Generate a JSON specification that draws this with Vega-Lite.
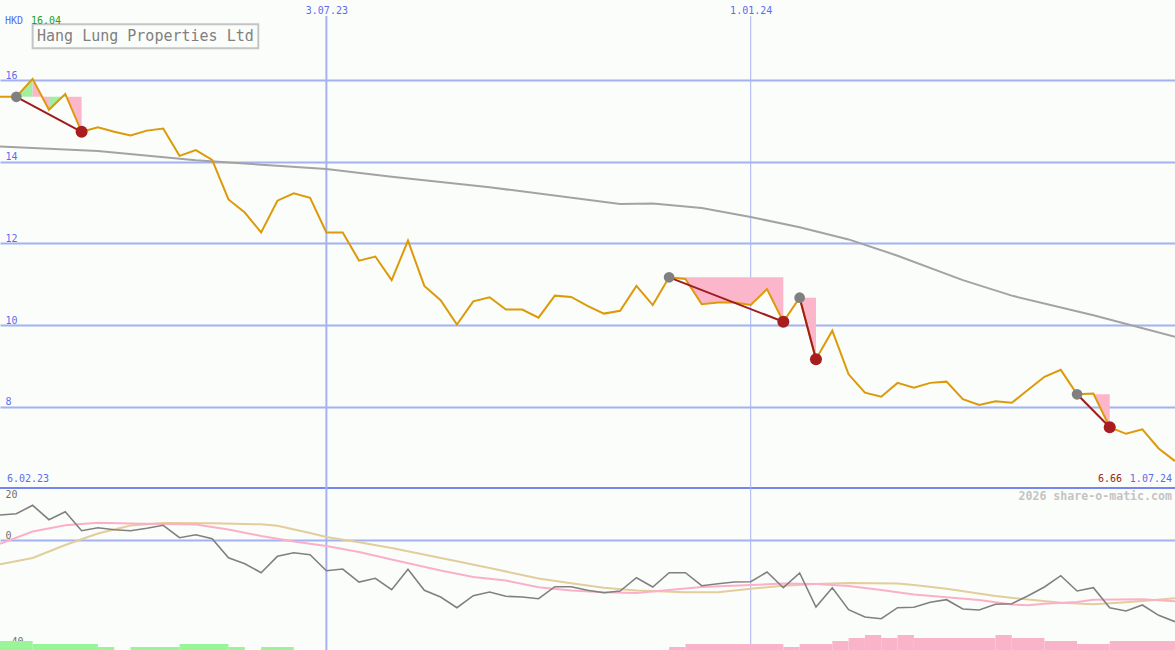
{
  "$schema": "https://vega.github.io/schema/vega-lite/v6.json",
  "width": 1175,
  "height": 650,
  "autosize": {"type": "none"},
  "padding": 0,
  "background": "#fbfdfb",
  "config": {"view": {"stroke": null}, "font": "DejaVu Sans Mono"},
  "datasets": {
    "weekly": [
      {"d":"2023-02-13","p":15.6,"m":9.49},
      {"d":"2023-02-20","p":15.6,"m":9.97},
      {"d":"2023-02-27","p":16.04,"m":13.12},
      {"d":"2023-03-06","p":15.28,"m":7.72},
      {"d":"2023-03-13","p":15.67,"m":10.72},
      {"d":"2023-03-20","p":14.74,"m":3.6},
      {"d":"2023-03-27","p":14.85,"m":4.72},
      {"d":"2023-04-03","p":14.74,"m":3.97},
      {"d":"2023-04-10","p":14.65,"m":3.6},
      {"d":"2023-04-17","p":14.77,"m":4.5},
      {"d":"2023-04-24","p":14.82,"m":5.62},
      {"d":"2023-05-01","p":14.15,"m":0.97},
      {"d":"2023-05-08","p":14.29,"m":2.1},
      {"d":"2023-05-15","p":14.05,"m":0.6},
      {"d":"2023-05-22","p":13.08,"m":-6.52},
      {"d":"2023-05-29","p":12.76,"m":-8.77},
      {"d":"2023-06-05","p":12.27,"m":-12.15},
      {"d":"2023-06-12","p":13.05,"m":-6.0},
      {"d":"2023-06-19","p":13.23,"m":-4.65},
      {"d":"2023-06-26","p":13.12,"m":-5.4},
      {"d":"2023-07-03","p":12.27,"m":-11.4},
      {"d":"2023-07-10","p":12.27,"m":-10.76},
      {"d":"2023-07-17","p":11.58,"m":-15.64},
      {"d":"2023-07-24","p":11.68,"m":-14.25},
      {"d":"2023-07-31","p":11.1,"m":-18.52},
      {"d":"2023-08-07","p":12.07,"m":-10.87},
      {"d":"2023-08-14","p":10.96,"m":-18.75},
      {"d":"2023-08-21","p":10.61,"m":-21.26},
      {"d":"2023-08-28","p":10.01,"m":-25.27},
      {"d":"2023-09-04","p":10.58,"m":-20.77},
      {"d":"2023-09-11","p":10.68,"m":-19.39},
      {"d":"2023-09-18","p":10.38,"m":-21.0},
      {"d":"2023-09-25","p":10.38,"m":-21.26},
      {"d":"2023-10-02","p":10.18,"m":-21.9},
      {"d":"2023-10-09","p":10.72,"m":-17.4},
      {"d":"2023-10-16","p":10.69,"m":-17.4},
      {"d":"2023-10-23","p":10.47,"m":-18.75},
      {"d":"2023-10-30","p":10.28,"m":-19.65},
      {"d":"2023-11-06","p":10.35,"m":-19.01},
      {"d":"2023-11-13","p":10.96,"m":-14.02},
      {"d":"2023-11-20","p":10.49,"m":-17.51},
      {"d":"2023-11-27","p":11.17,"m":-12.15},
      {"d":"2023-12-04","p":11.13,"m":-12.15},
      {"d":"2023-12-11","p":10.51,"m":-17.02},
      {"d":"2023-12-18","p":10.55,"m":-16.27},
      {"d":"2023-12-25","p":10.55,"m":-15.64},
      {"d":"2024-01-01","p":10.49,"m":-15.52},
      {"d":"2024-01-08","p":10.88,"m":-11.89},
      {"d":"2024-01-15","p":10.08,"m":-17.77},
      {"d":"2024-01-22","p":10.67,"m":-12.26},
      {"d":"2024-01-29","p":9.16,"m":-25.01},
      {"d":"2024-02-05","p":9.86,"m":-17.77},
      {"d":"2024-02-12","p":8.79,"m":-26.02},
      {"d":"2024-02-19","p":8.34,"m":-28.76},
      {"d":"2024-02-26","p":8.24,"m":-29.4},
      {"d":"2024-03-04","p":8.58,"m":-25.27},
      {"d":"2024-03-11","p":8.46,"m":-25.12},
      {"d":"2024-03-18","p":8.58,"m":-23.25},
      {"d":"2024-03-25","p":8.61,"m":-22.27},
      {"d":"2024-04-01","p":8.18,"m":-25.76},
      {"d":"2024-04-08","p":8.04,"m":-26.13},
      {"d":"2024-04-15","p":8.13,"m":-24.0},
      {"d":"2024-04-22","p":8.09,"m":-23.77},
      {"d":"2024-04-29","p":8.41,"m":-20.77},
      {"d":"2024-05-06","p":8.73,"m":-17.51},
      {"d":"2024-05-13","p":8.9,"m":-13.27},
      {"d":"2024-05-20","p":8.3,"m":-19.01},
      {"d":"2024-05-27","p":8.32,"m":-17.77},
      {"d":"2024-06-03","p":7.49,"m":-25.27},
      {"d":"2024-06-10","p":7.33,"m":-26.51},
      {"d":"2024-06-17","p":7.44,"m":-24.26},
      {"d":"2024-06-24","p":6.97,"m":-28.12},
      {"d":"2024-07-01","p":6.66,"m":-30.52}
    ],
    "ma": [
      {"d":"2023-02-13","v":14.38},
      {"d":"2023-03-27","v":14.27},
      {"d":"2023-05-08","v":14.04},
      {"d":"2023-07-03","v":13.83},
      {"d":"2023-07-31","v":13.64},
      {"d":"2023-09-11","v":13.38},
      {"d":"2023-11-06","v":12.97},
      {"d":"2023-11-20","v":12.98},
      {"d":"2023-12-11","v":12.87},
      {"d":"2024-01-01","v":12.65},
      {"d":"2024-01-22","v":12.4},
      {"d":"2024-02-12","v":12.1},
      {"d":"2024-03-04","v":11.7},
      {"d":"2024-04-01","v":11.1},
      {"d":"2024-04-22","v":10.72},
      {"d":"2024-05-27","v":10.24},
      {"d":"2024-07-01","v":9.71}
    ],
    "pinkline": [
      {"d":"2023-02-13","v":-1.27},
      {"d":"2023-02-27","v":3.3},
      {"d":"2023-03-13","v":5.62},
      {"d":"2023-03-27","v":6.56},
      {"d":"2023-04-10","v":6.34},
      {"d":"2023-05-08","v":5.92},
      {"d":"2023-05-22","v":4.05},
      {"d":"2023-06-05","v":1.61},
      {"d":"2023-06-19","v":-0.45},
      {"d":"2023-07-03","v":-2.14},
      {"d":"2023-07-17","v":-4.39},
      {"d":"2023-07-31","v":-7.2},
      {"d":"2023-08-21","v":-11.32},
      {"d":"2023-09-04","v":-13.76},
      {"d":"2023-09-18","v":-15.07},
      {"d":"2023-10-02","v":-17.62},
      {"d":"2023-10-16","v":-18.82},
      {"d":"2023-10-30","v":-19.46},
      {"d":"2023-11-13","v":-19.76},
      {"d":"2023-11-27","v":-18.64},
      {"d":"2023-12-11","v":-17.51},
      {"d":"2024-01-01","v":-16.76},
      {"d":"2024-01-15","v":-16.2},
      {"d":"2024-01-29","v":-16.39},
      {"d":"2024-02-12","v":-17.14},
      {"d":"2024-02-26","v":-18.64},
      {"d":"2024-03-11","v":-20.32},
      {"d":"2024-03-25","v":-21.37},
      {"d":"2024-04-08","v":-22.38},
      {"d":"2024-04-22","v":-24.07},
      {"d":"2024-04-29","v":-24.37},
      {"d":"2024-05-06","v":-23.77},
      {"d":"2024-05-20","v":-23.13},
      {"d":"2024-05-27","v":-22.27},
      {"d":"2024-06-17","v":-22.12},
      {"d":"2024-07-01","v":-22.87}
    ],
    "tanline": [
      {"d":"2023-02-13","v":-9.0},
      {"d":"2023-02-27","v":-6.64},
      {"d":"2023-03-13","v":-1.76},
      {"d":"2023-03-27","v":2.55},
      {"d":"2023-04-10","v":5.55},
      {"d":"2023-04-24","v":6.49},
      {"d":"2023-05-15","v":6.37},
      {"d":"2023-06-05","v":6.0},
      {"d":"2023-06-12","v":5.44},
      {"d":"2023-06-26","v":2.74},
      {"d":"2023-07-03","v":1.24},
      {"d":"2023-07-17","v":-0.75},
      {"d":"2023-07-31","v":-2.89},
      {"d":"2023-08-28","v":-7.84},
      {"d":"2023-09-11","v":-10.39},
      {"d":"2023-10-02","v":-14.32},
      {"d":"2023-10-16","v":-16.12},
      {"d":"2023-10-30","v":-17.77},
      {"d":"2023-11-13","v":-18.82},
      {"d":"2023-12-04","v":-19.5},
      {"d":"2023-12-18","v":-19.5},
      {"d":"2024-01-01","v":-18.15},
      {"d":"2024-01-15","v":-17.02},
      {"d":"2024-01-29","v":-16.39},
      {"d":"2024-02-12","v":-16.01},
      {"d":"2024-03-04","v":-16.16},
      {"d":"2024-03-11","v":-16.76},
      {"d":"2024-03-25","v":-18.15},
      {"d":"2024-04-15","v":-20.88},
      {"d":"2024-04-29","v":-22.2},
      {"d":"2024-05-13","v":-23.4},
      {"d":"2024-05-27","v":-24.0},
      {"d":"2024-06-10","v":-23.25},
      {"d":"2024-06-17","v":-22.76},
      {"d":"2024-07-01","v":-21.75}
    ],
    "bars": [
      {"d":"2023-02-13","d2":"2023-02-27","lv":-37.76,"c":"g"},
      {"d":"2023-02-27","d2":"2023-03-27","lv":-38.88,"c":"g"},
      {"d":"2023-03-27","d2":"2023-04-03","lv":-40.0,"c":"g"},
      {"d":"2023-04-10","d2":"2023-05-01","lv":-40.0,"c":"g"},
      {"d":"2023-05-01","d2":"2023-05-22","lv":-38.88,"c":"g"},
      {"d":"2023-05-22","d2":"2023-05-29","lv":-40.0,"c":"g"},
      {"d":"2023-06-05","d2":"2023-06-19","lv":-40.0,"c":"g"},
      {"d":"2023-11-27","d2":"2023-12-04","lv":-40.0,"c":"p"},
      {"d":"2023-12-04","d2":"2024-01-15","lv":-38.88,"c":"p"},
      {"d":"2024-01-15","d2":"2024-01-22","lv":-40.0,"c":"p"},
      {"d":"2024-01-22","d2":"2024-02-05","lv":-38.88,"c":"p"},
      {"d":"2024-02-05","d2":"2024-02-12","lv":-37.76,"c":"p"},
      {"d":"2024-02-12","d2":"2024-02-19","lv":-36.63,"c":"p"},
      {"d":"2024-02-19","d2":"2024-02-26","lv":-35.5,"c":"p"},
      {"d":"2024-02-26","d2":"2024-03-04","lv":-36.63,"c":"p"},
      {"d":"2024-03-04","d2":"2024-03-11","lv":-35.5,"c":"p"},
      {"d":"2024-03-11","d2":"2024-04-15","lv":-36.63,"c":"p"},
      {"d":"2024-04-15","d2":"2024-04-22","lv":-35.5,"c":"p"},
      {"d":"2024-04-22","d2":"2024-05-06","lv":-36.63,"c":"p"},
      {"d":"2024-05-06","d2":"2024-05-20","lv":-37.76,"c":"p"},
      {"d":"2024-05-20","d2":"2024-06-03","lv":-38.88,"c":"p"},
      {"d":"2024-06-03","d2":"2024-07-01","lv":-37.76,"c":"p"}
    ],
    "fills": [
      {"s":"e1a","c":"g","d":"2023-02-20","p":15.6,"L":15.6},
      {"s":"e1a","c":"g","d":"2023-02-27","p":16.04,"L":15.6},
      {"s":"e1b","c":"p","d":"2023-02-27","p":16.04,"L":15.6},
      {"s":"e1b","c":"p","d":"2023-03-06","p":15.28,"L":15.6},
      {"s":"e1c","c":"g","d":"2023-03-06","p":15.28,"L":15.6},
      {"s":"e1c","c":"g","d":"2023-03-13","p":15.67,"L":15.6},
      {"s":"e1d","c":"p","d":"2023-03-13","p":15.67,"L":15.6},
      {"s":"e1d","c":"p","d":"2023-03-20","p":14.74,"L":15.6},
      {"s":"e2","c":"p","d":"2023-11-27","p":11.17,"L":11.17},
      {"s":"e2","c":"p","d":"2023-12-04","p":11.13,"L":11.17},
      {"s":"e2","c":"p","d":"2023-12-11","p":10.51,"L":11.17},
      {"s":"e2","c":"p","d":"2023-12-18","p":10.55,"L":11.17},
      {"s":"e2","c":"p","d":"2023-12-25","p":10.55,"L":11.17},
      {"s":"e2","c":"p","d":"2024-01-01","p":10.49,"L":11.17},
      {"s":"e2","c":"p","d":"2024-01-08","p":10.88,"L":11.17},
      {"s":"e2","c":"p","d":"2024-01-15","p":10.08,"L":11.17},
      {"s":"e3","c":"p","d":"2024-01-22","p":10.67,"L":10.67},
      {"s":"e3","c":"p","d":"2024-01-29","p":9.16,"L":10.67},
      {"s":"e4a","c":"g","d":"2024-05-20","p":8.3,"L":8.3},
      {"s":"e4a","c":"g","d":"2024-05-27","p":8.32,"L":8.3},
      {"s":"e4b","c":"p","d":"2024-05-27","p":8.32,"L":8.3},
      {"s":"e4b","c":"p","d":"2024-06-03","p":7.49,"L":8.3}
    ],
    "events": [
      {"e":1,"k":"hi","d":"2023-02-20","p":15.6},
      {"e":1,"k":"lo","d":"2023-03-20","p":14.74},
      {"e":2,"k":"hi","d":"2023-11-27","p":11.17},
      {"e":2,"k":"lo","d":"2024-01-15","p":10.08},
      {"e":3,"k":"hi","d":"2024-01-22","p":10.67},
      {"e":3,"k":"lo","d":"2024-01-29","p":9.16},
      {"e":4,"k":"hi","d":"2024-05-20","p":8.3},
      {"e":4,"k":"lo","d":"2024-06-03","p":7.49}
    ]
  },
  "layer": [
    {
      "layer": [
        {
          "data": {"values": [{}]},
          "mark": {"type": "rule", "color": "#7686f0", "strokeWidth": 2},
          "encoding": {
            "y": {
              "datum": 6, "type": "quantitative",
              "scale": {"domain": [2.025, 17.975], "nice": false, "zero": false},
              "axis": {"orient": "left", "values": [8, 10, 12, 14, 16], "title": null, "grid": true, "gridColor": "#a4b2f2", "gridWidth": 2, "domain": false, "ticks": false, "tickSize": 0, "labelAlign": "left", "labelPadding": -5, "labelBaseline": "alphabetic", "labelOffset": -2, "labelColor": "#5b6cf0", "labelFont": "DejaVu Sans Mono", "labelFontSize": 10, "labelOverlap": false, "labelFlush": false, "labelBound": false}
            }
          }
        },
        {
          "data": {"values": [{}]},
          "mark": {"type": "rule", "color": "#a4b2f2", "strokeWidth": 2},
          "encoding": {
            "x": {"datum": {"year": 2023, "month": 7, "date": 3, "utc": true}, "type": "temporal"},
            "y": {"datum": 17.58, "type": "quantitative"},
            "y2": {"datum": 2.025}
          }
        },
        {
          "data": {"values": [{}]},
          "mark": {"type": "rule", "color": "#a8b2ee", "strokeWidth": 1},
          "encoding": {
            "x": {"datum": {"year": 2024, "month": 1, "date": 1, "utc": true}, "type": "temporal"},
            "y": {"datum": 17.58, "type": "quantitative"},
            "y2": {"datum": 2.025}
          }
        },
        {
          "data": {"name": "fills"},
          "transform": [{"filter": "datum.c == 'g'"}],
          "mark": {"type": "area", "color": "#a0f0a0", "opacity": 1},
          "encoding": {
            "x": {"field": "d", "type": "temporal"},
            "y": {"field": "p", "type": "quantitative"},
            "y2": {"field": "L"},
            "detail": {"field": "s"}
          }
        },
        {
          "data": {"name": "fills"},
          "transform": [{"filter": "datum.c == 'p'"}],
          "mark": {"type": "area", "color": "#fbb6cb", "opacity": 1},
          "encoding": {
            "x": {"field": "d", "type": "temporal"},
            "y": {"field": "p", "type": "quantitative"},
            "y2": {"field": "L"},
            "detail": {"field": "s"}
          }
        },
        {
          "data": {"name": "ma"},
          "mark": {"type": "line", "color": "#a3a3a3", "strokeWidth": 2},
          "encoding": {
            "x": {"field": "d", "type": "temporal"},
            "y": {"field": "v", "type": "quantitative"}
          }
        },
        {
          "data": {"name": "weekly"},
          "mark": {"type": "line", "color": "#dd9a08", "strokeWidth": 2},
          "encoding": {
            "x": {
              "field": "d", "type": "temporal",
              "scale": {"type": "utc", "domain": [{"year": 2023, "month": 2, "date": 13, "utc": true}, {"year": 2024, "month": 7, "date": 1, "utc": true}]},
              "axis": {"orient": "top", "title": null, "values": [{"year": 2023, "month": 7, "date": 3, "utc": true}, {"year": 2024, "month": 1, "date": 1, "utc": true}], "format": "%-d.%m.%y", "grid": false, "domain": false, "ticks": false, "tickSize": 0, "labelPadding": -13, "labelBaseline": "alphabetic", "labelAlign": "center", "labelColor": "#5b6cf0", "labelFont": "DejaVu Sans Mono", "labelFontSize": 10, "labelOverlap": false, "labelFlush": false, "labelBound": false}
            },
            "y": {"field": "p", "type": "quantitative"}
          }
        },
        {
          "data": {"name": "events"},
          "mark": {"type": "line", "color": "#a01c1c", "strokeWidth": 2},
          "encoding": {
            "x": {"field": "d", "type": "temporal"},
            "y": {"field": "p", "type": "quantitative"},
            "detail": {"field": "e"}
          }
        },
        {
          "data": {"name": "events"},
          "transform": [{"filter": "datum.k == 'hi'"}],
          "mark": {"type": "circle", "color": "#808080", "opacity": 1, "size": 115},
          "encoding": {
            "x": {"field": "d", "type": "temporal"},
            "y": {"field": "p", "type": "quantitative"}
          }
        },
        {
          "data": {"name": "events"},
          "transform": [{"filter": "datum.k == 'lo'"}],
          "mark": {"type": "circle", "color": "#a81e1e", "opacity": 1, "size": 145},
          "encoding": {
            "x": {"field": "d", "type": "temporal"},
            "y": {"field": "p", "type": "quantitative"}
          }
        },
        {
          "data": {"values": [{}]},
          "mark": {"type": "rect", "fill": "transparent", "stroke": "#c4c4c4", "strokeWidth": 2},
          "encoding": {
            "x": {"datum": {"year": 2023, "month": 2, "date": 27, "utc": true}, "type": "temporal"},
            "x2": {"datum": {"year": 2023, "month": 6, "date": 3, "hours": 19, "utc": true}},
            "y": {"datum": 17.38, "type": "quantitative"},
            "y2": {"datum": 16.79}
          }
        },
        {
          "data": {"values": [{}]},
          "mark": {"type": "text", "align": "left", "baseline": "alphabetic", "dx": 37, "font": "DejaVu Sans Mono", "fontSize": 15, "color": "#808080"},
          "encoding": {
            "x": {"datum": {"year": 2023, "month": 2, "date": 13, "utc": true}, "type": "temporal"},
            "y": {"datum": 16.97, "type": "quantitative"},
            "text": {"value": "Hang Lung Properties Ltd"}
          }
        },
        {
          "data": {"values": [{}]},
          "mark": {"type": "text", "align": "left", "baseline": "alphabetic", "dx": 5, "font": "DejaVu Sans Mono", "fontSize": 10, "color": "#5b6cf0"},
          "encoding": {
            "x": {"datum": {"year": 2023, "month": 2, "date": 13, "utc": true}, "type": "temporal"},
            "y": {"datum": 17.38, "type": "quantitative"},
            "text": {"value": "HKD"}
          }
        },
        {
          "data": {"values": [{}]},
          "mark": {"type": "text", "align": "left", "baseline": "alphabetic", "dx": 31, "font": "DejaVu Sans Mono", "fontSize": 10, "color": "#22a022"},
          "encoding": {
            "x": {"datum": {"year": 2023, "month": 2, "date": 13, "utc": true}, "type": "temporal"},
            "y": {"datum": 17.38, "type": "quantitative"},
            "text": {"value": "16.04"}
          }
        },
        {
          "data": {"values": [{}]},
          "mark": {"type": "text", "align": "left", "baseline": "alphabetic", "dx": 7, "font": "DejaVu Sans Mono", "fontSize": 10, "color": "#5b6cf0"},
          "encoding": {
            "x": {"datum": {"year": 2023, "month": 2, "date": 13, "utc": true}, "type": "temporal"},
            "y": {"datum": 6.14, "type": "quantitative"},
            "text": {"value": "6.02.23"}
          }
        },
        {
          "data": {"values": [{}]},
          "mark": {"type": "text", "align": "right", "baseline": "alphabetic", "dx": -3, "font": "DejaVu Sans Mono", "fontSize": 10, "color": "#5b6cf0"},
          "encoding": {
            "x": {"datum": {"year": 2024, "month": 7, "date": 1, "utc": true}, "type": "temporal"},
            "y": {"datum": 6.14, "type": "quantitative"},
            "text": {"value": "1.07.24"}
          }
        },
        {
          "data": {"values": [{}]},
          "mark": {"type": "text", "align": "right", "baseline": "alphabetic", "dx": -53, "font": "DejaVu Sans Mono", "fontSize": 10, "color": "#992222"},
          "encoding": {
            "x": {"datum": {"year": 2024, "month": 7, "date": 1, "utc": true}, "type": "temporal"},
            "y": {"datum": 6.14, "type": "quantitative"},
            "text": {"value": "6.66"}
          }
        },
        {
          "data": {"values": [{}]},
          "mark": {"type": "text", "align": "right", "baseline": "alphabetic", "dx": -3, "font": "DejaVu Sans Mono", "fontSize": 11.6, "fontWeight": "bold", "color": "#c4c4c4"},
          "encoding": {
            "x": {"datum": {"year": 2024, "month": 7, "date": 1, "utc": true}, "type": "temporal"},
            "y": {"datum": 5.705, "type": "quantitative"},
            "text": {"value": "2026 share-o-matic.com"}
          }
        }
      ]
    },
    {
      "layer": [
        {
          "data": {"name": "bars"},
          "transform": [{"filter": "datum.c == 'g'"}],
          "mark": {"type": "rect", "color": "#98f598", "opacity": 1},
          "encoding": {
            "x": {"field": "d", "type": "temporal"},
            "x2": {"field": "d2"},
            "y": {
              "field": "lv", "type": "quantitative",
              "scale": {"domain": [-41.13, 202.6], "nice": false, "zero": false},
              "axis": {"orient": "left", "values": [20, 0, -40], "title": null, "grid": true, "gridColor": "#a4b2f2", "gridWidth": 2, "gridOpacity": {"condition": {"test": "datum.value == 0", "value": 1}, "value": 0}, "domain": false, "ticks": false, "tickSize": 0, "labelAlign": "left", "labelPadding": -5, "labelBaseline": {"condition": {"test": "datum.value == 20", "value": "top"}, "value": "alphabetic"}, "labelOffset": {"condition": {"test": "datum.value == 20", "value": 3}, "value": -2}, "labelColor": "#707070", "labelFont": "DejaVu Sans Mono", "labelFontSize": 10, "labelOverlap": false, "labelFlush": false, "labelBound": false}
            },
            "y2": {"datum": -41.13}
          }
        },
        {
          "data": {"name": "bars"},
          "transform": [{"filter": "datum.c == 'p'"}],
          "mark": {"type": "rect", "color": "#f9b4c9", "opacity": 1},
          "encoding": {
            "x": {"field": "d", "type": "temporal"},
            "x2": {"field": "d2"},
            "y": {"field": "lv", "type": "quantitative"},
            "y2": {"datum": -41.13}
          }
        },
        {
          "data": {"name": "tanline"},
          "mark": {"type": "line", "color": "#e2cd9c", "strokeWidth": 2},
          "encoding": {
            "x": {"field": "d", "type": "temporal"},
            "y": {"field": "v", "type": "quantitative"}
          }
        },
        {
          "data": {"name": "pinkline"},
          "mark": {"type": "line", "color": "#fbb0c8", "strokeWidth": 2},
          "encoding": {
            "x": {"field": "d", "type": "temporal"},
            "y": {"field": "v", "type": "quantitative"}
          }
        },
        {
          "data": {"name": "weekly"},
          "mark": {"type": "line", "color": "#808080", "strokeWidth": 1.6},
          "encoding": {
            "x": {"field": "d", "type": "temporal"},
            "y": {"field": "m", "type": "quantitative"}
          }
        }
      ]
    }
  ],
  "resolve": {"scale": {"y": "independent"}, "axis": {"y": "independent"}}
}
